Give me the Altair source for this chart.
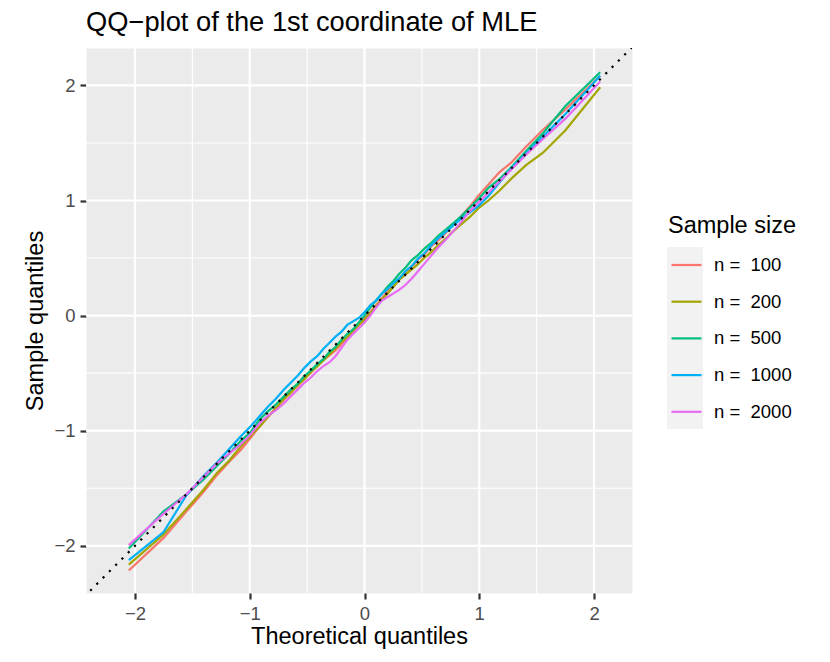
import altair as alt
import pandas as pd

# Theoretical normal quantiles (x) shared by every sample size
x_theoretical = [-2.054, -1.751, -1.555, -1.405, -1.282, -1.175, -1.080, -0.994, -0.915, -0.842,
                 -0.772, -0.706, -0.643, -0.583, -0.524, -0.468, -0.412, -0.358, -0.305, -0.253,
                 -0.202, -0.151, -0.100, -0.050, 0.000, 0.050, 0.100, 0.151, 0.202, 0.253,
                 0.305, 0.358, 0.412, 0.468, 0.524, 0.583, 0.643, 0.706, 0.772, 0.842,
                 0.915, 0.994, 1.080, 1.175, 1.282, 1.405, 1.555, 1.751, 2.054]

# Sample quantiles
y_n100 = [-2.214, -1.931, -1.705, -1.535, -1.382, -1.265, -1.170, -1.064, -0.965, -0.882,
          -0.802, -0.736, -0.663, -0.613, -0.544, -0.498, -0.432, -0.388, -0.345, -0.303,
          -0.252, -0.191, -0.140, -0.080, -0.020, 0.030, 0.090, 0.151, 0.212, 0.253,
          0.315, 0.358, 0.422, 0.488, 0.534, 0.603, 0.653, 0.716, 0.792, 0.862,
          0.945, 1.044, 1.140, 1.245, 1.332, 1.465, 1.615, 1.791, 2.084]
y_n200 = [-2.164, -1.901, -1.685, -1.515, -1.362, -1.255, -1.140, -1.044, -0.965, -0.882,
          -0.802, -0.726, -0.673, -0.603, -0.554, -0.488, -0.442, -0.388, -0.335, -0.283,
          -0.232, -0.191, -0.130, -0.080, -0.040, 0.020, 0.080, 0.141, 0.192, 0.253,
          0.315, 0.358, 0.402, 0.448, 0.504, 0.553, 0.613, 0.666, 0.732, 0.792,
          0.855, 0.934, 1.000, 1.085, 1.192, 1.305, 1.415, 1.611, 1.984]
y_n500 = [-2.024, -1.701, -1.555, -1.425, -1.302, -1.195, -1.090, -1.014, -0.905, -0.832,
          -0.772, -0.706, -0.643, -0.593, -0.524, -0.478, -0.422, -0.378, -0.315, -0.273,
          -0.212, -0.161, -0.120, -0.060, 0.000, 0.070, 0.130, 0.191, 0.252, 0.303,
          0.365, 0.418, 0.482, 0.528, 0.584, 0.633, 0.693, 0.746, 0.802, 0.862,
          0.935, 1.014, 1.110, 1.185, 1.292, 1.425, 1.585, 1.821, 2.114]
y_n1000 = [-2.124, -1.881, -1.565, -1.395, -1.272, -1.155, -1.050, -0.964, -0.875, -0.792,
           -0.722, -0.646, -0.583, -0.523, -0.454, -0.398, -0.352, -0.288, -0.235, -0.183,
           -0.142, -0.081, -0.050, -0.020, 0.030, 0.090, 0.130, 0.191, 0.232, 0.283,
           0.325, 0.388, 0.432, 0.498, 0.544, 0.613, 0.673, 0.726, 0.782, 0.842,
           0.895, 0.954, 1.040, 1.155, 1.282, 1.405, 1.555, 1.751, 2.084]
y_n2000 = [-1.994, -1.721, -1.555, -1.405, -1.282, -1.195, -1.120, -1.034, -0.935, -0.872,
           -0.822, -0.766, -0.703, -0.643, -0.584, -0.538, -0.482, -0.438, -0.405, -0.353,
           -0.282, -0.211, -0.160, -0.110, -0.060, 0.000, 0.070, 0.131, 0.162, 0.193,
           0.225, 0.268, 0.322, 0.388, 0.454, 0.523, 0.593, 0.656, 0.732, 0.812,
           0.905, 0.984, 1.070, 1.165, 1.272, 1.395, 1.535, 1.711, 2.034]

series_labels = ["n =\u00a0\u00a0100", "n =\u00a0\u00a0200", "n =\u00a0\u00a0500",
                 "n =\u00a0\u00a01000", "n =\u00a0\u00a02000"]
series_colors = ["#F8766D", "#A3A500", "#00BF7D", "#00B0F6", "#E76BF3"]

major_breaks = [-2, -1, 0, 1, 2]
minor_breaks = [-1.5, -0.5, 0.5, 1.5]
ref_line = [-2.5, 2.5]
x_domain = [-2.427, 2.331]
y_domain = [-2.41, 2.325]

rows = []
for k, (label, ys) in enumerate(zip(series_labels, [y_n100, y_n200, y_n500, y_n1000, y_n2000])):
    for xv, yv in zip(x_theoretical, ys):
        rows.append({"x": xv, "y": yv, "series": label, "k": k})
df = pd.DataFrame(rows)

FONT = "Liberation Sans"
x_scale = alt.Scale(domain=x_domain, nice=False, zero=False)
y_scale = alt.Scale(domain=y_domain, nice=False, zero=False)

def make_axis(title, tpad):
    return alt.Axis(values=major_breaks, grid=False, domain=False, tickSize=6, tickWidth=2.2,
                    tickColor="#333333", labelColor="#4D4D4D", labelFontSize=18.5, labelFont=FONT,
                    labelPadding=5, labelFlush=False, labelOverlap=False,
                    title=title, titleFont=FONT, titleFontSize=23.5,
                    titleColor="black", titleFontWeight="normal", titlePadding=tpad)

ax_x = make_axis("Theoretical quantiles", 2)
ax_y = make_axis("Sample quantiles", 6)
X = alt.X("x:Q", scale=x_scale, axis=ax_x)
Y = alt.Y("y:Q", scale=y_scale, axis=ax_y)

minor_df = pd.DataFrame({"x": minor_breaks, "y": minor_breaks})
major_df = pd.DataFrame({"x": major_breaks, "y": major_breaks})

minor_v = alt.Chart(minor_df).mark_rule(color="white", strokeWidth=1.1).encode(x=X)
minor_h = alt.Chart(minor_df).mark_rule(color="white", strokeWidth=1.1).encode(y=Y)
major_v = alt.Chart(major_df).mark_rule(color="white", strokeWidth=2.2).encode(x=X)
major_h = alt.Chart(major_df).mark_rule(color="white", strokeWidth=2.2).encode(y=Y)

key_bg = alt.Chart(pd.DataFrame({"k": [0]})).mark_rect(color="#F2F2F2").encode(
    x=alt.value(581), x2=alt.value(617), y=alt.value(199), y2=alt.value(381))

lines = alt.Chart(df).mark_line(strokeWidth=2.2, clip=True).encode(
    x=X, y=Y,
    color=alt.Color("series:N",
                    scale=alt.Scale(domain=series_labels, range=series_colors),
                    legend=alt.Legend(orient="none", legendX=582, legendY=166,
                                      title="Sample size", titleFont=FONT, titleFontSize=23.5,
                                      titleFontWeight="normal", titleColor="black", titlePadding=11,
                                      labelFont=FONT, labelFontSize=18.5, labelColor="black",
                                      symbolType="stroke", symbolSize=900, symbolStrokeWidth=2.2,
                                      rowPadding=10.7, labelOffset=11, padding=0, symbolOffset=2)),
    order=alt.Order("k:Q"),
    detail="series:N",
)

abline = alt.Chart(pd.DataFrame({"x": ref_line, "y": ref_line})).mark_line(
    color="black", strokeWidth=2.2, strokeDash=[2.2, 6.7], clip=True).encode(x=X, y=Y)

chart = alt.layer(minor_v, minor_h, major_v, major_h, key_bg, lines, abline).properties(
    width=546, height=545,
    title=alt.TitleParams("QQ\u2212plot of the 1st coordinate of MLE", anchor="start", frame="group",
                          fontSize=27.3, font=FONT, fontWeight="normal", color="black", offset=11),
    autosize=alt.AutoSizeParams(type="none"),
    padding={"left": 78, "top": 40, "right": 190, "bottom": 60},
).configure(font=FONT, background="white").configure_view(fill="#EBEBEB", stroke="transparent")

chart.save("out.html", embed_options={"renderer": "svg", "actions": False})
